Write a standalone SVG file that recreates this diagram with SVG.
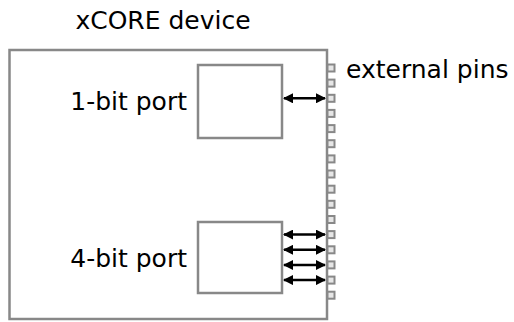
<svg xmlns="http://www.w3.org/2000/svg" width="514" height="322" viewBox="0 0 514 322">
<defs>
<style>
.box{fill:#fff;stroke:#888;stroke-width:2.5}
.pin{fill:#e6e6e6;stroke:#888;stroke-width:2}
.lbl{font-family:"DejaVu Sans",sans-serif;font-size:25px;fill:#000}
.arr{stroke:#000;stroke-width:2.5;fill:none;marker-start:url(#ah);marker-end:url(#ah)}
</style>
<marker id="ah" viewBox="0 0 10 10" refX="9" refY="5" markerWidth="4.6" markerHeight="4" orient="auto-start-reverse" markerUnits="strokeWidth">
<path d="M0,0 L10,5 L0,10 z" fill="#000"/>
</marker>
</defs>
<g id="device">
<rect class="box" x="9.5" y="50" width="317.5" height="269" style="fill:none"/>
<text class="lbl" x="163" y="29" text-anchor="middle">xCORE device</text>
</g>
<g id="pins">
<rect class="pin" x="327.5" y="64.5" width="7" height="7"/>
<rect class="pin" x="327.5" y="79.6" width="7" height="7"/>
<rect class="pin" x="327.5" y="94.8" width="7" height="7"/>
<rect class="pin" x="327.5" y="109.9" width="7" height="7"/>
<rect class="pin" x="327.5" y="125.1" width="7" height="7"/>
<rect class="pin" x="327.5" y="140.2" width="7" height="7"/>
<rect class="pin" x="327.5" y="155.4" width="7" height="7"/>
<rect class="pin" x="327.5" y="170.5" width="7" height="7"/>
<rect class="pin" x="327.5" y="185.7" width="7" height="7"/>
<rect class="pin" x="327.5" y="200.8" width="7" height="7"/>
<rect class="pin" x="327.5" y="216" width="7" height="7"/>
<rect class="pin" x="327.5" y="231.1" width="7" height="7"/>
<rect class="pin" x="327.5" y="246.3" width="7" height="7"/>
<rect class="pin" x="327.5" y="261.4" width="7" height="7"/>
<rect class="pin" x="327.5" y="276.6" width="7" height="7"/>
<rect class="pin" x="327.5" y="291.7" width="7" height="7"/>
<text class="lbl" x="346" y="78">external pins</text>
</g>
<g id="port1">
<rect class="box" x="198" y="65" width="84" height="73"/>
<text class="lbl" x="187" y="110" text-anchor="end">1-bit port</text>
</g>
<g id="port4">
<rect class="box" x="198" y="222" width="84" height="71"/>
<text class="lbl" x="187" y="267" text-anchor="end">4-bit port</text>
</g>
<g id="connectors">
<line class="arr" x1="284" y1="98.3" x2="325" y2="98.3"/>
<line class="arr" x1="284" y1="234.6" x2="325" y2="234.6"/>
<line class="arr" x1="284" y1="249.8" x2="325" y2="249.8"/>
<line class="arr" x1="284" y1="265" x2="325" y2="265"/>
<line class="arr" x1="284" y1="280.1" x2="325" y2="280.1"/>
</g>
</svg>
